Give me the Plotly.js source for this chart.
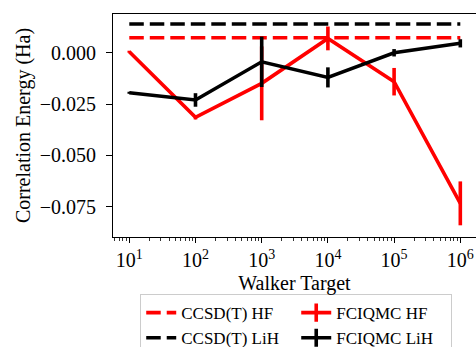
<!DOCTYPE html>
<html>
<head>
<meta charset="utf-8">
<script src="https://cdn.plot.ly/plotly-3.0.1.min.js"></script>
<style>html,body{margin:0;padding:0;background:#fff;}#plot{width:476px;height:347px;}</style>
</head>
<body>
<div id="plot"></div>
<script>
// Data
const walkerTargets = [10, 100, 1000, 10000, 100000, 1000000];
const ccsdHF  = [0.0073, 0.0073, 0.0073, 0.0073, 0.0073, 0.0073];
const ccsdLiH = [0.0140, 0.0140, 0.0140, 0.0140, 0.0140, 0.0140];
const fciqmcHF     = [0.0005, -0.0315, -0.0149, 0.0070, -0.0141, -0.0734];
const fciqmcHFErr  = [0.0005, 0.0010, 0.0180, 0.0058, 0.0067, 0.0107];
const fciqmcLiH    = [-0.0195, -0.0230, -0.0044, -0.0120, 0.0000, 0.0046];
const fciqmcLiHErr = [0.0005, 0.0033, 0.0123, 0.0049, 0.0018, 0.0020];
const xTickVals = [10, 100, 1000, 10000, 100000, 1000000];
const xTickText = ['10<sup>1</sup>', '10<sup>2</sup>', '10<sup>3</sup>', '10<sup>4</sup>', '10<sup>5</sup>', '10<sup>6</sup>'];
const yTickVals = [0, -0.025, -0.05, -0.075];
const yTickText = ['0.000', '\u22120.025', '\u22120.050', '\u22120.075'];

const RED = '#ff0000', BLACK = '#000000';
const LW = 3.6;
const DASH = '14.5px,6px';
const FONT = 'Liberation Serif';

const traces = [
  {x: walkerTargets, y: ccsdHF, mode: 'lines', name: 'CCSD(T) HF',
   line: {color: RED, width: LW, dash: DASH}, legendrank: 1},
  {x: walkerTargets, y: ccsdLiH, mode: 'lines', name: 'CCSD(T) LiH',
   line: {color: BLACK, width: LW, dash: DASH}, legendrank: 3},
  {x: walkerTargets, y: fciqmcHF, mode: 'lines', name: 'FCIQMC HF', showlegend: false,
   line: {color: RED, width: LW},
   error_y: {type: 'data', array: fciqmcHFErr, visible: true, color: RED, thickness: LW, width: 0}},
  {x: walkerTargets, y: fciqmcLiH, mode: 'lines', name: 'FCIQMC LiH', showlegend: false,
   line: {color: BLACK, width: LW},
   error_y: {type: 'data', array: fciqmcLiHErr, visible: true, color: BLACK, thickness: LW, width: 0}},
  // legend entries (line with vertical error-bar glyph)
  {x: [null], y: [null], mode: 'lines+markers', name: 'FCIQMC HF', legendrank: 2,
   line: {color: RED, width: LW},
   marker: {symbol: 'line-ns-open', size: 13, color: RED, line: {color: RED, width: LW}}},
  {x: [null], y: [null], mode: 'lines+markers', name: 'FCIQMC LiH', legendrank: 4,
   line: {color: BLACK, width: LW},
   marker: {symbol: 'line-ns-open', size: 13, color: BLACK, line: {color: BLACK, width: LW}}}
];

const layout = {
  width: 476, height: 347,
  margin: {l: 113, r: 0, t: 14, b: 110, autoexpand: false},
  paper_bgcolor: '#ffffff', plot_bgcolor: '#ffffff',
  font: {family: FONT, size: 20, color: '#000'},
  showlegend: true,
  xaxis: {
    type: 'log', range: [0.754, 6.237],
    tickmode: 'array', tickvals: xTickVals, ticktext: xTickText,
    ticks: 'outside', ticklen: 5, tickwidth: 1, tickcolor: '#000',
    minor: {ticks: 'outside', ticklen: 2.5, tickwidth: 0.8, tickcolor: '#000', dtick: 'D1', showgrid: false},
    showline: true, linecolor: '#000', linewidth: 1, mirror: true,
    showgrid: false, zeroline: false, automargin: false,
    tickfont: {family: FONT, size: 20, color: '#000'},
    title: {text: 'Walker Target', font: {family: FONT, size: 20, color: '#000'}, standoff: 5}
  },
  yaxis: {
    range: [-0.0898, 0.0189],
    tickmode: 'array', tickvals: yTickVals, ticktext: yTickText,
    ticks: 'outside', ticklen: 6, tickwidth: 1, tickcolor: '#000',
    ticklabelstandoff: 6,
    showline: true, linecolor: '#000', linewidth: 1, mirror: false,
    showgrid: false, zeroline: false, automargin: false,
    tickfont: {family: FONT, size: 20, color: '#000'},
    title: {text: 'Correlation Energy (Ha)', font: {family: FONT, size: 20, color: '#000'}, standoff: 3}
  },
  legend: {
    orientation: 'h', x: 0.075, y: -0.256, xanchor: 'left', yanchor: 'top',
    entrywidth: 110, entrywidthmode: 'pixels',
    font: {family: FONT, size: 17, color: '#000'},
    bordercolor: '#cccccc', borderwidth: 1, bgcolor: '#ffffff',
    traceorder: 'normal'
  }
};

Plotly.newPlot('plot', traces, layout, {staticPlot: true, displayModeBar: false});
</script>
</body>
</html>
